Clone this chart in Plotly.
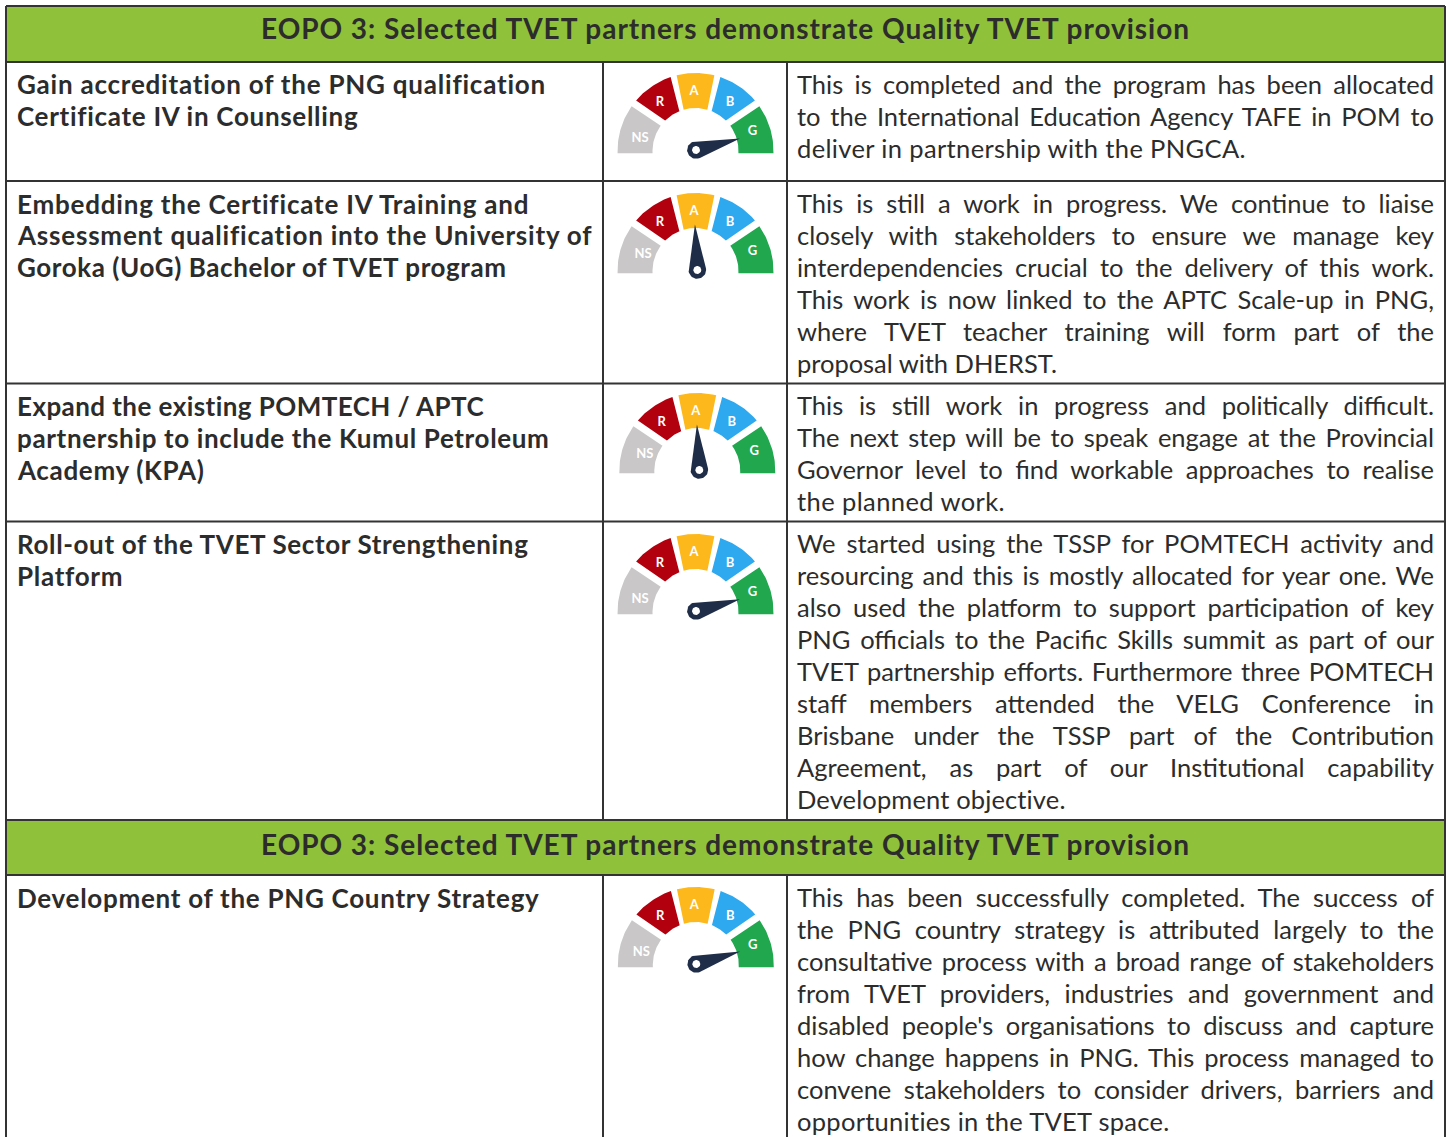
import math
import json
import plotly.graph_objects as go

W, H = 1451, 1137

# ---------- data ----------
HEADERS = ["EOPO 3: Selected TVET partners demonstrate Quality TVET provision"] * 2
STATUS_LABELS = ["NS", "R", "A", "B", "G"]
STATUS_COLORS = ["#c9c7c8", "#b2000f", "#fdb81c", "#2ea8ee", "#21a84f"]
NEEDLE_DEG = [14.8, 93.0, 93.0, 15.0, 15.8]

ROW1_LEFT = ["Gain accreditation of the PNG qualification", "Certificate IV in Counselling"]
ROW1_RIGHT = ["This is completed and the program has been allocated",
              "to the International Education Agency TAFE in POM to",
              "deliver in partnership with the PNGCA."]
ROW2_LEFT = ["Embedding the Certificate IV Training and",
             "Assessment qualification into the University of",
             "Goroka (UoG) Bachelor of TVET program"]
ROW2_RIGHT = ["This is still a work in progress. We continue to liaise",
              "closely with stakeholders to ensure we manage key",
              "interdependencies crucial to the delivery of this work.",
              "This work is now linked to the APTC Scale-up in PNG,",
              "where TVET teacher training will form part of the",
              "proposal with DHERST."]
ROW3_LEFT = ["Expand the existing POMTECH / APTC",
             "partnership to include the Kumul Petroleum",
             "Academy (KPA)"]
ROW3_RIGHT = ["This is still work in progress and politically difficult.",
              "The next step will be to speak engage at the Provincial",
              "Governor level to find workable approaches to realise",
              "the planned work."]
ROW4_LEFT = ["Roll-out of the TVET Sector Strengthening", "Platform"]
ROW4_RIGHT = ["We started using the TSSP for POMTECH activity and",
              "resourcing and this is mostly allocated for year one. We",
              "also used the platform to support participation of key",
              "PNG officials to the Pacific Skills summit as part of our",
              "TVET partnership efforts. Furthermore three POMTECH",
              "staff members attended the VELG Conference in",
              "Brisbane under the TSSP part of the Contribution",
              "Agreement, as part of our Institutional capability",
              "Development objective."]
ROW5_LEFT = ["Development of the PNG Country Strategy"]
ROW5_RIGHT = ["This has been successfully completed. The success of",
              "the PNG country strategy is attributed largely to the",
              "consultative process with a broad range of stakeholders",
              "from TVET providers, industries and government and",
              "disabled people's organisations to discuss and capture",
              "how change happens in PNG. This process managed to",
              "convene stakeholders to consider drivers, barriers and",
              "opportunities in the TVET space."]

LEFT_ROWS = [ROW1_LEFT, ROW2_LEFT, ROW3_LEFT, ROW4_LEFT, ROW5_LEFT]
RIGHT_ROWS = [ROW1_RIGHT, ROW2_RIGHT, ROW3_RIGHT, ROW4_RIGHT, ROW5_RIGHT]

# ---------- layout (pixels) ----------
ROW_TEXT_Y = [84.5, 203.5, 405.5, 543.5, 897.5]
LINE_H = 32
LEFT_ENDS = [[546, 358], [529, 591, 506], [484, 549, 203], [528, 122], [539]]
LAST_LINE_ENDS = [1246, 1057, 1005, 1066, 1170]
GAUGE_CX = [695.5, 695.5, 697.3, 695.5, 695.8]
GAUGE_CY = [151, 271, 471, 612, 965]
PIVOT_DX = [0.5, 1.8, 2.0, 0.5, 0.5]
NS_LABEL = [(-55.5, 12), (-52.5, 16), (-52.5, 16), (-55.5, 12), (-54.5, 12.5)]
TEXT_DARK = "#2c2c2c"
LINE_C = "#333333"
GREEN = "#8fc23a"
FONT = "Lato"

# outer start/end, inner start/end angles (degrees) of the five gauge bands
BAND_ANGLES = [(181.7, 145, 144, 183), (139.6, 108.6, 112, 135), (104, 76, 74, 106),
               (71.4, 40.4, 45, 68), (35, -1.7, -3, 36)]
LABEL_XY = [None, (-35.5, 48), (-1.5, 59.5), (34.5, 48.5), (57, 19)]
R_OUT, R_IN = 78, 43


def arc(r, a0, a1, n=30):
    pts = [math.radians(a0 + (a1 - a0) * i / n) for i in range(n + 1)]
    return [r * math.cos(t) for t in pts], [r * math.sin(t) for t in pts]


def needle_path(deg, length, rad, dx, dy):
    t = math.radians(deg)
    tx, ty = dx + length * math.cos(t), dy + length * math.sin(t)
    off = math.acos(rad / length)
    xs, ys = [tx], [ty]
    n = 30
    for i in range(n + 1):
        a = t + off + (2 * math.pi - 2 * off) * i / n
        xs.append(dx + rad * math.cos(a))
        ys.append(dy + rad * math.sin(a))
    xs.append(tx)
    ys.append(ty)
    return xs, ys


fig = go.Figure()
layout_axes = {}
BOX = (-90, 90, -20, 90)

for g in range(5):
    sfx = "" if g == 0 else str(g + 1)
    cx, cy = GAUGE_CX[g], GAUGE_CY[g]
    layout_axes["xaxis" + sfx] = dict(domain=[(cx + BOX[0]) / W, (cx + BOX[1]) / W],
                                      range=[BOX[0], BOX[1]], visible=False, fixedrange=True,
                                      anchor="y" + sfx)
    layout_axes["yaxis" + sfx] = dict(domain=[1 - (cy - BOX[2]) / H, 1 - (cy - BOX[3]) / H],
                                      range=[BOX[2], BOX[3]], visible=False, fixedrange=True,
                                      anchor="x" + sfx)
    ax = dict(xaxis="x" + sfx, yaxis="y" + sfx)
    for i, lab in enumerate(STATUS_LABELS):
        a = BAND_ANGLES[i]
        ox, oy = arc(R_OUT, a[0], a[1])
        ix, iy = arc(R_IN, a[2], a[3])
        xs = ox + ix + [ox[0]]
        ys = oy + iy + [oy[0]]
        ys = [max(v, -2.3) for v in ys]
        fig.add_trace(go.Scatter(x=xs, y=ys, mode="lines", fill="toself", fillcolor=STATUS_COLORS[i],
                                 line=dict(width=0), hoverinfo="skip", showlegend=False, **ax))
        lx, ly = NS_LABEL[g] if i == 0 else LABEL_XY[i]
        fig.add_trace(go.Scatter(x=[lx], y=[ly], mode="text", text=[lab],
                                 textfont=dict(family=FONT, size=13, color="white", weight="bold"),
                                 hoverinfo="skip", showlegend=False, **ax))
    nx, ny = needle_path(NEEDLE_DEG[g], 45.5, 8.8, PIVOT_DX[g], 1)
    fig.add_trace(go.Scatter(x=nx, y=ny, mode="lines", fill="toself", fillcolor="#1f2d48",
                             line=dict(width=0), hoverinfo="skip", showlegend=False, **ax))
    hx, hy = arc(4, 0, 360)
    hx = [v + PIVOT_DX[g] for v in hx]
    hy = [v + 1 for v in hy]
    fig.add_trace(go.Scatter(x=hx, y=hy, mode="lines", fill="toself", fillcolor="white",
                             line=dict(width=0), hoverinfo="skip", showlegend=False, **ax))


def px(v):
    return v / W


def py(v):
    return 1 - v / H


shapes = []


def rect(x0, y0, x1, y1, color):
    shapes.append(dict(type="rect", xref="paper", yref="paper", x0=px(x0), x1=px(x1), y0=py(y0), y1=py(y1),
                       fillcolor=color, line=dict(width=0), layer="below"))


def hline(y):
    shapes.append(dict(type="line", xref="paper", yref="paper", x0=px(6), x1=px(1445), y0=py(y), y1=py(y),
                       line=dict(color=LINE_C, width=2), layer="below"))


def vline(x, y0, y1):
    shapes.append(dict(type="line", xref="paper", yref="paper", x0=px(x), x1=px(x), y0=py(y0), y1=py(y1),
                       line=dict(color=LINE_C, width=2), layer="below"))


rect(6, 6, 1445, 62, GREEN)
rect(6, 820, 1445, 875, GREEN)
for y in [6, 62, 181, 383.5, 521.5, 820, 875]:
    hline(y)
vline(6, 6, 1137)
vline(1445, 6, 1137)
for x in [603, 787]:
    vline(x, 62, 820)
    vline(x, 875, 1137)

annotations = []
fits = []


def add_text(text, x, y, size, weight, target_right, mode):
    annotations.append(dict(text=text, xref="paper", yref="paper", x=px(x), y=py(y), xanchor="left", yanchor="middle",
                            align="left", showarrow=False, borderpad=0,
                            font=dict(family=FONT, size=size, color=TEXT_DARK, weight=weight)))
    fits.append(dict(w=target_right - x - 1, mode=mode))


for txt, yy in zip(HEADERS, [28.5, 843.5]):
    add_text(txt, 260, yy, 28, "bold", 1190, "letter")

for r in range(5):
    y0 = ROW_TEXT_Y[r]
    for j, line in enumerate(LEFT_ROWS[r]):
        add_text(line, 15.5, y0 + j * LINE_H, 26, "bold", LEFT_ENDS[r][j], "letter")
    lines = RIGHT_ROWS[r]
    for j, line in enumerate(lines):
        last = j == len(lines) - 1
        add_text(line, 796, y0 + j * LINE_H - 0.5, 25.5, 400,
                 LAST_LINE_ENDS[r] if last else 1434, "letter" if last else "word")

fig.update_layout(width=W, height=H, margin=dict(l=0, r=0, t=0, b=0), paper_bgcolor="white",
                  plot_bgcolor="rgba(0,0,0,0)", showlegend=False, shapes=shapes, annotations=annotations,
                  **layout_axes)

post = """
document.body.style.margin='0';
document.documentElement.style.overflow='hidden';
var fits = %s;
fits.forEach(function(f,i){
  var el = document.querySelector('g.annotation[data-index="'+i+'"] text');
  if(!el) return;
  var t = el.textContent, w = el.getComputedTextLength();
  var extra = f.w - w;
  if(f.mode==='word'){
    var n = (t.match(/ /g)||[]).length;
    if(n) el.style.wordSpacing = (extra/n)+'px';
  } else {
    el.style.letterSpacing = (extra/t.length)+'px';
  }
});
""" % json.dumps(fits)

fig.write_html("out.html", post_script=post, config=dict(displayModeBar=False))
